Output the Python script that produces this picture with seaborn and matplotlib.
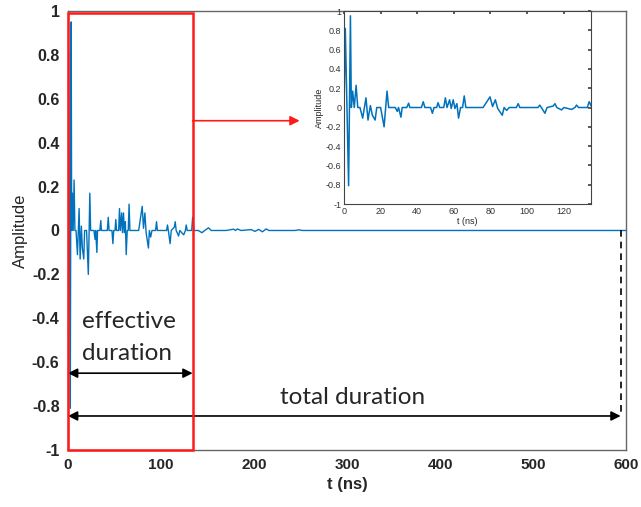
import numpy as np
import pandas as pd
import matplotlib
matplotlib.use('Agg')
import matplotlib.pyplot as plt
import seaborn as sns
from matplotlib.patches import Rectangle

sns.set_theme(style='white')
plt.rcParams['font.family'] = ['Liberation Sans', 'DejaVu Sans']
plt.rcParams['axes.unicode_minus'] = False

# impulse response (t in ns)
t_ns = [0, 0.7, 2.5, 3.5, 4.0, 4.7, 5.6, 6.6, 7.5, 8.7, 10.2, 12.0, 13.1, 14.4, 15.5,
        17.0, 17.9, 20.0, 21.9, 23.5, 24.4, 28.0, 29.1, 29.8, 31.1, 31.8, 34.3, 35.3,
        36.0, 42.3, 43.3, 44.2, 47.3, 48.3, 49.2, 50.6, 51.4, 52.3, 54.5, 55.4, 56.3,
        57.7, 58.6, 59.7, 60.6, 61.7, 62.6, 63.7, 64.8, 65.7, 66.6, 76.0, 79.8, 81.2,
        82.7, 84.0, 86.5, 87.5, 88.9, 90.3, 94.2, 95.2, 96.1, 106.0, 107.0, 108.2,
        109.8, 111.0, 114.3, 115.3, 116.3, 118.9, 120.2, 124.4, 126.2, 127.1, 128.2,
        133.0, 134.0, 135.5, 140.0, 144.0, 147.0, 151.0, 154.0, 170.0, 178.0, 180.0,
        182.0, 186.0, 197.0, 201.0, 205.0, 209.0, 213.0, 216.0, 244.0, 248.0, 252.0,
        600.0]
amp = [0, 0.82, -0.81, 0.95, 0.0, 0.17, 0.0, 0.23, 0.0, 0.0, -0.11, 0.10, -0.13, 0.02, -0.08,
       -0.13, 0.0, 0.0, -0.20, 0.17, 0.0, 0.0, -0.04, 0.0, -0.10, 0.0, 0.0, 0.045,
       0.0, 0.0, 0.06, 0.0, 0.0, -0.06, 0.0, 0.0, 0.05, 0.0, 0.0, 0.10, 0.0,
       0.08, -0.01, 0.08, -0.01, 0.04, -0.11, 0.0, 0.0, 0.12, 0.0, 0.0, 0.11, 0.01,
       0.08, -0.01, -0.08, 0.0, -0.03, 0.0, 0.0, 0.04, 0.0, 0.0, 0.025, -0.01,
       -0.06, 0.0, 0.015, 0.04, 0.0, -0.025, 0.0, -0.02, 0.0, 0.025, 0.0,
       0.0, 0.06, 0.0, 0.0, -0.01, 0.0, 0.012, 0.0, 0.0, 0.006, 0.0,
       0.007, 0.0, 0.004, -0.004, 0.005, -0.006, 0.007, 0.0, 0.0, 0.003, 0.0,
       0.0]

x_ticks = [0, 100, 200, 300, 400, 500, 600]
y_ticks = [-1, -0.8, -0.6, -0.4, -0.2, 0, 0.2, 0.4, 0.6, 0.8, 1]
inset_x_ticks = [0, 20, 40, 60, 80, 100, 120]
effective_end = 134
total_end = 594

df = pd.DataFrame({'t': t_ns, 'a': amp})
blue = '#0072BD'

fig = plt.figure(figsize=(6.41, 5.07), dpi=100)
ax = fig.add_axes([0.106, 0.1124, 0.871, 0.866])
sns.lineplot(data=df, x='t', y='a', ax=ax, color=blue, lw=1.0, estimator=None, sort=False)
ax.set_xlim(0, 600)
ax.set_ylim(-1, 1)
ax.set_xticks(x_ticks)
ax.set_yticks(y_ticks)
ax.set_xticklabels([f'{v:g}' for v in x_ticks], fontsize=11, fontweight='bold')
ax.set_yticklabels([f'{v:g}' for v in y_ticks], fontsize=11.5, fontweight='bold')
ax.tick_params(direction='in', length=4, color='#555555', pad=6)
for s in ax.spines.values():
    s.set_color('#666666')
    s.set_linewidth(1.0)
ax.set_xlabel('t (ns)', fontsize=12, fontweight='bold', labelpad=3)
ax.set_ylabel('Amplitude', fontsize=12, labelpad=3)

# red box around the effective part
ax.add_patch(Rectangle((0, -1), effective_end, 1.99, fill=False, ec='#ff1a1a', lw=1.8,
                       clip_on=False, zorder=5))
ax.annotate('', xy=(249, 0.5), xytext=(effective_end, 0.5),
            arrowprops=dict(arrowstyle='-|>', color='#ff1a1a', lw=1.2, mutation_scale=14,
                            shrinkA=0, shrinkB=0))

# duration arrows
ax.annotate('', xy=(0, -0.65), xytext=(effective_end, -0.65),
            arrowprops=dict(arrowstyle='<|-|>', color='black', lw=1.2, mutation_scale=14,
                            shrinkA=0, shrinkB=0))
ax.annotate('', xy=(0, -0.845), xytext=(total_end, -0.845),
            arrowprops=dict(arrowstyle='<|-|>', color='black', lw=1.2, mutation_scale=14,
                            shrinkA=0, shrinkB=0))
ax.plot([total_end, total_end], [0, -0.83], color='black', ls=(0, (4, 3)), lw=1.2)
ax.text(15, -0.415, 'effective', fontsize=17.5, family='Lato', va='center', ha='left')
ax.text(15, -0.56, 'duration', fontsize=17.5, family='Lato', va='center', ha='left')
ax.text(306, -0.76, 'total duration', fontsize=17.5, family='Lato', va='center', ha='center')

# inset zoom of the first 135 ns
ins = fig.add_axes([0.5367, 0.5976, 0.3853, 0.3807])
ins.set_facecolor('white')
sns.lineplot(data=df, x='t', y='a', ax=ins, color=blue, lw=1.1, estimator=None, sort=False)
ins.set_xlim(0, 135)
ins.set_ylim(-1, 1)
ins.set_xticks(inset_x_ticks)
ins.set_yticks(y_ticks)
ins.set_xticklabels([f'{v:g}' for v in inset_x_ticks], fontsize=6.5)
ins.set_yticklabels([f'{v:g}' for v in y_ticks], fontsize=6.5)
ins.tick_params(direction='in', length=2.5, color='#444444', labelcolor='#333333', pad=2,
                top=True, right=True)
for s in ins.spines.values():
    s.set_color('#444444')
    s.set_linewidth(0.8)
ins.set_xlabel('t (ns)', fontsize=6.5, labelpad=1)
ins.set_ylabel('Amplitude', fontsize=6.5, labelpad=1)

fig.savefig('out.png', dpi=100)
